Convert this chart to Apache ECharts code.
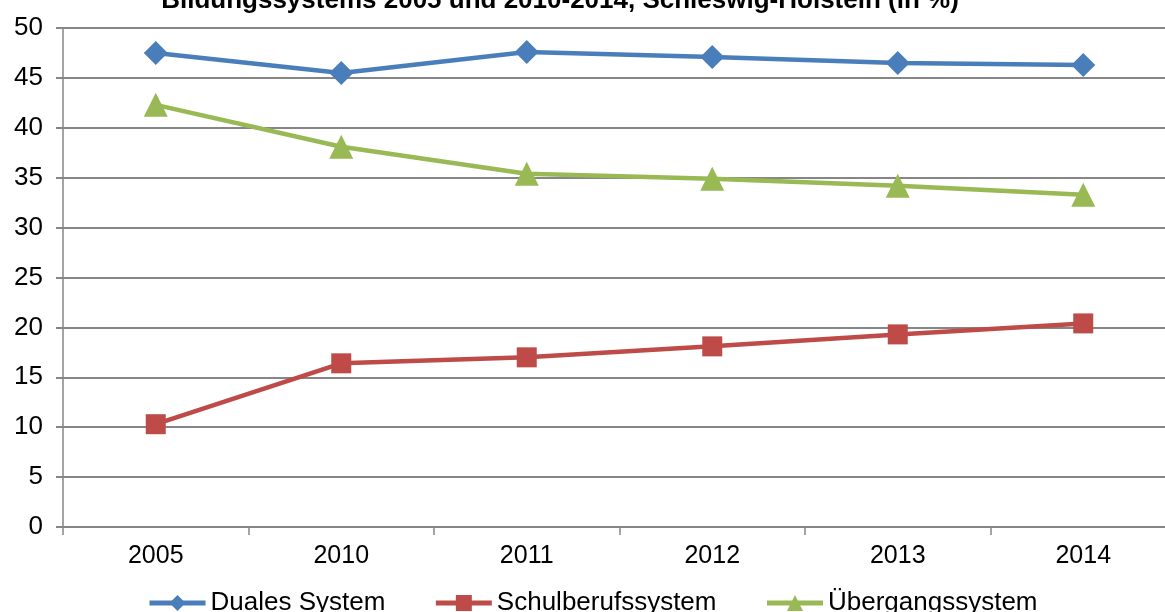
<!DOCTYPE html>
<html>
<head>
<meta charset="utf-8">
<script src="https://cdn.jsdelivr.net/npm/echarts@6/dist/echarts.min.js"></script>
<style>
	html, body { margin: 0; padding: 0; background: #fff; }
	#chart { width: 1165px; height: 612px; }
</style>
</head>
<body>
<div id="chart"></div>
<script>
const years = ["2005", "2010", "2011", "2012", "2013", "2014"]
const duales = [47.5, 45.5, 47.6, 47.1, 46.5, 46.3]
const schulberuf = [10.3, 16.4, 17.0, 18.1, 19.3, 20.4]
const uebergang = [42.3, 38.1, 35.4, 34.9, 34.2, 33.3]

const font = "'Liberation Sans', Arial, sans-serif"

const chart = echarts.init(document.getElementById("chart"))

function line(name, data, color, symbol, size) {
	return {
		name: name,
		type: "line",
		data: data,
		symbol: symbol,
		symbolSize: size,
		lineStyle: { color: color, width: 4.5 },
		itemStyle: { color: color },
		animation: false,
	}
}

chart.setOption({
	backgroundColor: "#fff",
	title: {
		text: "Bildungssystems 2005 und 2010-2014, Schleswig-Holstein (in %)",
		left: 555,
		textAlign: "center",
		top: -17,
		textStyle: { fontFamily: font, fontSize: 26, fontWeight: "bold", color: "#000" },
	},
	legend: {
		bottom: -9,
		left: 142,
		itemWidth: 56,
		itemHeight: 20,
		itemGap: 48,
		lineStyle: { width: 5 },
		textStyle: { fontFamily: font, fontSize: 26, color: "#000" },
		data: ["Duales System", "Schulberufssystem", "Übergangssystem"],
	},
	grid: { left: 63, width: 1113, top: 28, bottom: 85, outerBoundsMode: "none" },
	xAxis: {
		type: "category",
		data: years,
		boundaryGap: true,
		axisLine: { lineStyle: { color: "#868686", width: 2 } },
		axisTick: { show: true, length: 8, lineStyle: { color: "#868686", width: 1.5 } },
		axisLabel: { fontFamily: font, fontSize: 25, color: "#000", margin: 17 },
	},
	yAxis: {
		type: "value",
		min: 0,
		max: 50,
		interval: 5,
		axisLine: { show: true, lineStyle: { color: "#868686", width: 1.5 } },
		axisTick: { show: true, length: 7, lineStyle: { color: "#868686", width: 2 } },
		splitLine: { lineStyle: { color: "#868686", width: 2 } },
		axisLabel: { fontFamily: font, fontSize: 26, color: "#000", margin: 20 },
	},
	series: [
		line("Duales System", duales, "#4a7ebb", "diamond", 24),
		line("Schulberufssystem", schulberuf, "#be4b48", "rect", 20),
		line("Übergangssystem", uebergang, "#98b954", "triangle", 24),
	],
})
</script>
</body>
</html>
